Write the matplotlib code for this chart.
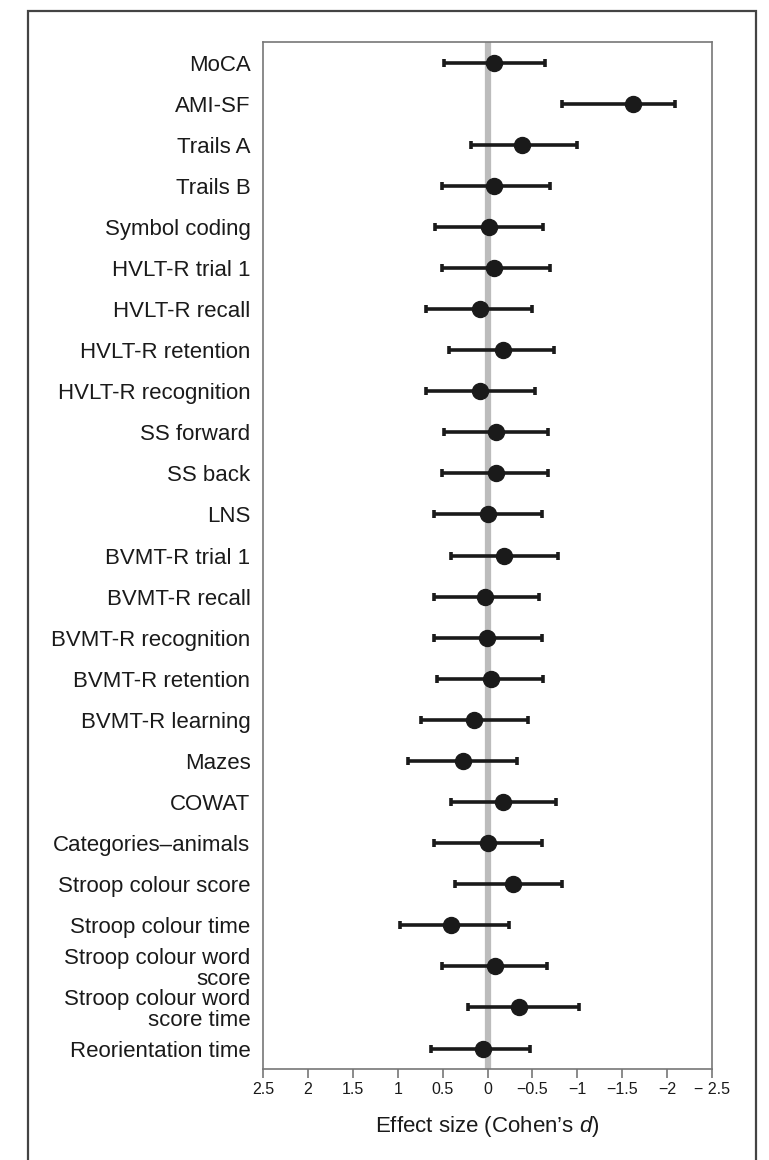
import matplotlib
matplotlib.use("Agg")
import matplotlib.pyplot as plt
from matplotlib.patches import Rectangle
import numpy as np

# Outcome measures, top to bottom
measures = [
    "MoCA", "AMI-SF", "Trails A", "Trails B", "Symbol coding",
    "HVLT-R trial 1", "HVLT-R recall", "HVLT-R retention", "HVLT-R recognition",
    "SS forward", "SS back", "LNS", "BVMT-R trial 1", "BVMT-R recall",
    "BVMT-R recognition", "BVMT-R retention", "BVMT-R learning", "Mazes",
    "COWAT", "Categories\u2013animals", "Stroop colour score", "Stroop colour time",
    "Stroop colour word\nscore", "Stroop colour word\nscore time", "Reorientation time",
]

# Effect sizes (Cohen's d) with lower/upper confidence limits
effect = [-0.07, -1.62, -0.38, -0.07, -0.02, -0.07, 0.08, -0.17, 0.08,
          -0.09, -0.09, 0.00, -0.18, 0.03, 0.01, -0.04, 0.15, 0.27,
          -0.17, 0.00, -0.28, 0.41, -0.08, -0.35, 0.05]
ci_high = [0.49, -0.83, 0.18, 0.51, 0.58, 0.51, 0.68, 0.43, 0.68,
           0.49, 0.51, 0.60, 0.41, 0.60, 0.60, 0.56, 0.74, 0.89,
           0.41, 0.60, 0.36, 0.98, 0.51, 0.22, 0.63]
ci_low = [-0.64, -2.09, -1.00, -0.69, -0.62, -0.69, -0.50, -0.74, -0.53,
          -0.67, -0.67, -0.61, -0.78, -0.57, -0.61, -0.62, -0.45, -0.33,
          -0.76, -0.61, -0.83, -0.24, -0.66, -1.02, -0.47]

x_ticks = [2.5, 2, 1.5, 1, 0.5, 0, -0.5, -1, -1.5, -2, -2.5]
x_tick_labels = ["2.5", "2", "1.5", "1", "0.5", "0", "\u22120.5", "\u22121",
                 "\u22121.5", "\u22122", "\u2212 2.5"]

plt.rcParams["font.family"] = ["Liberation Sans", "DejaVu Sans"]
plt.rcParams["mathtext.fontset"] = "custom"
plt.rcParams["mathtext.rm"] = "Liberation Sans"
plt.rcParams["mathtext.it"] = "Liberation Sans:italic"

fig = plt.figure(figsize=(7.69, 11.6), dpi=100)
ax = fig.add_axes([0.342, 0.0784, 0.584, 0.8854])

# Outer panel frame
fig.patches.append(Rectangle((0.0364, -0.02), 0.9467, 1.0105,
                             transform=fig.transFigure, fill=False,
                             edgecolor="#444444", linewidth=1.6))

y = np.arange(len(measures))
eff = np.array(effect)
lo = np.array(ci_low)
hi = np.array(ci_high)

# Reference line at zero effect
ax.axvline(0, color="#bcbcbc", linewidth=4.5, zorder=1)

ax.errorbar(eff, y, xerr=[eff - lo, hi - eff], fmt="o", color="#1a1a1a",
            markersize=11.5, elinewidth=2.6, capsize=3.0, capthick=2.6,
            zorder=3)

ax.set_xlim(2.5, -2.5)
ax.set_ylim(len(measures) - 0.5, -0.5)
ax.set_yticks(y)
ax.set_yticklabels(measures, fontsize=16, color="#1a1a1a", linespacing=1.0)
ax.tick_params(axis="y", length=0, pad=9)
ax.set_xticks(x_ticks)
ax.set_xticklabels(x_tick_labels, fontsize=11.5, color="#1a1a1a")
ax.tick_params(axis="x", direction="out", length=6.5, width=1.2,
               color="#777777", pad=3)

for s in ax.spines.values():
    s.set_color("#777777")
    s.set_linewidth(1.2)

ax.set_xlabel("Effect size (Cohen\u2019s $\\mathit{d}$)", fontsize=16,
              color="#1a1a1a", labelpad=12)

fig.savefig("out.png", dpi=100)
